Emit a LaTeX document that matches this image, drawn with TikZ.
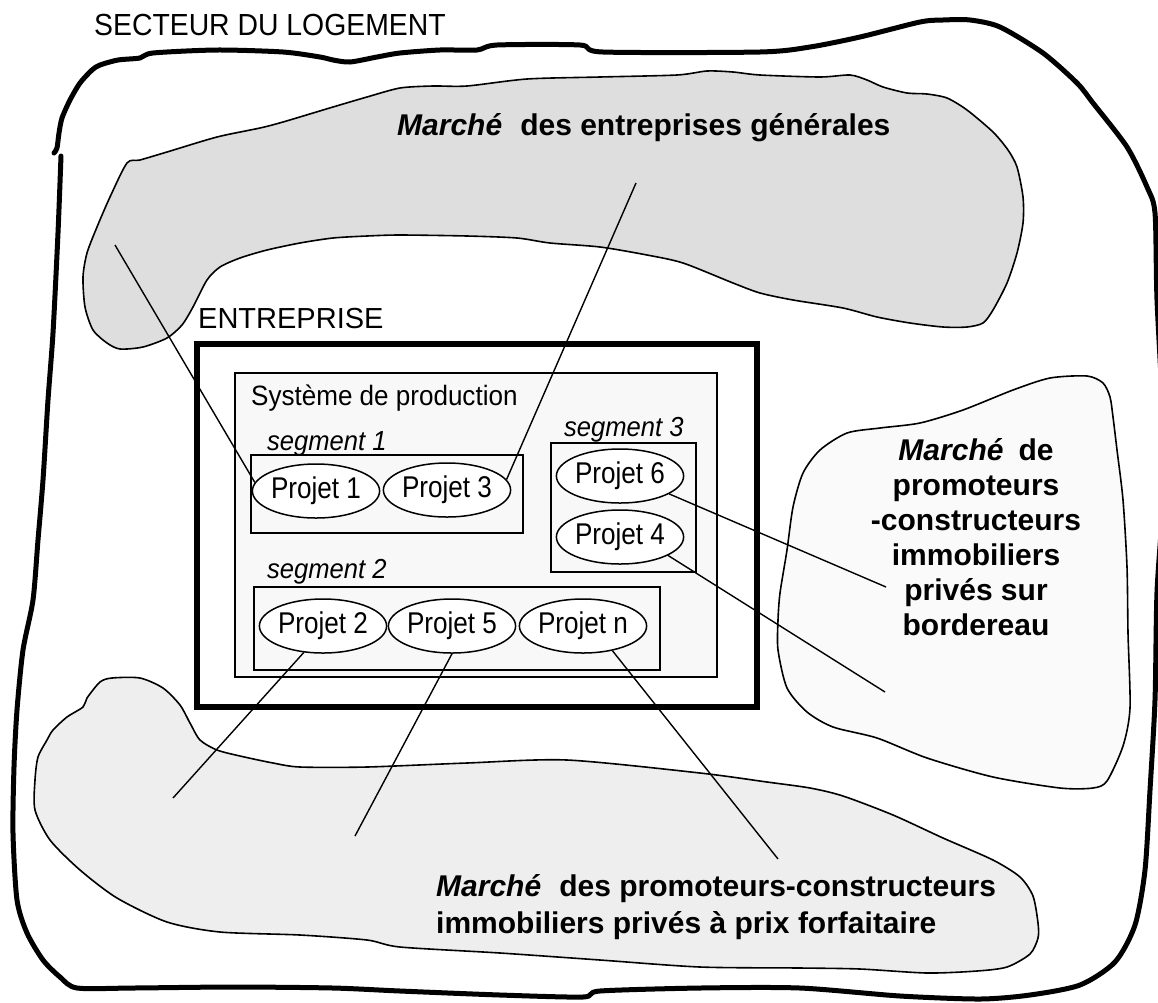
\documentclass[tikz,border=0pt]{standalone}
\usepackage{fontspec}
\setmainfont{Liberation Sans}
\newfontfamily\etroite[FakeStretch=0.87]{Liberation Sans}
\newfontfamily\mietroite[FakeStretch=0.93]{Liberation Sans}
\usetikzlibrary{shapes.geometric}

\definecolor{grisfonce}{HTML}{DEDEDE}
\definecolor{grisclair}{HTML}{EEEEEE}
\definecolor{grispale}{HTML}{FAFAFA}
\definecolor{grissys}{HTML}{F8F8F8}

\begin{document}
\begin{tikzpicture}[x=1pt,y=-1pt,
  marche/.style={draw, line width=1.6pt, line join=round},
  projet/.style={ellipse, draw, line width=1.5pt, fill=white, minimum width=123pt,
    minimum height=54pt, inner sep=0pt, font=\fontsize{30}{34}\etroite},
  lien/.style={line width=1.4pt},
  etiq/.style={anchor=base west, inner sep=0pt},
  seg/.style={etiq, font=\fontsize{27.5}{32}\mietroite\itshape},
  titre/.style={inner sep=0pt, font=\fontsize{30}{35}\selectfont\bfseries}]

  \useasboundingbox (0,0) rectangle (1158,1002);

%%%%%%%%%%%%%%%%%%%%%%%%%%%%%%%%%%%%%%%%%%
  % Secteur du logement
  \node[etiq, font=\fontsize{30.5}{36}\mietroite] (secteur) at (94,35) {SECTEUR DU LOGEMENT};
  \draw[line width=5pt, line cap=round, line join=round]
    plot[smooth, tension=0.45] coordinates {(61,156) (58,233) (53,333) (48,400) (43,480)
      (38,540) (33,600) (23,650) (17,710) (14,767) (13,833) (17,900) (27,933) (43,960)
      (60,977) (77,988) (133,988) (233,987) (333,988) (400,991) (500,995) (583,997)
      (600,991) (700,988) (800,988) (900,996) (980,999) (1030,995) (1080,985) (1115,962)
      (1135,925) (1145,870) (1150,790) (1155,700) (1157,592) (1163,500) (1163,420)
      (1157,300) (1155,213) (1147,187) (1127,147) (1093,103) (1077,83) (1043,53) (1000,27)
      (970,20) (943,20) (920,22) (860,37) (810,47) (760,52) (603,52) (580,45) (497,45)
      (477,50) (440,50) (400,53) (377,57) (350,62) (333,60) (320,57) (283,52) (217,50)
      (153,53) (140,58) (118,60) (100,65) (92,70) (80,83) (70,100) (62,118) (59,133)
      (57,148) (54,153)};

%%%%%%%%%%%%%%%%%%%%%%%%%%%%%%%%%%%%%%%%%%
  % Marches
  \draw[marche, fill=grisfonce]
    plot[smooth cycle, tension=0.45] coordinates {(127,163) (140,160) (167,152) (217,137)
      (260,128) (283,122) (333,107) (367,97) (400,88) (433,86) (467,86) (527,79) (600,77)
      (677,75) (707,71) (733,72) (760,75) (820,77) (850,75) (867,80) (883,87) (907,93)
      (927,94) (947,98) (967,110) (993,132) (1008,150) (1017,167) (1023,197) (1023,223)
      (1017,253) (1007,283) (993,310) (983,323) (967,327) (943,327) (910,323) (877,317)
      (843,308) (793,300) (760,293) (733,283) (683,263) (647,255) (600,247) (550,243)
      (517,238) (467,236) (400,235) (367,236) (333,238) (300,243) (267,250) (240,258)
      (220,267) (207,280) (193,307) (182,325) (167,338) (143,347) (120,349) (107,343)
      (93,330) (85,307) (83,277) (87,253) (97,227) (110,197)};
  \node[titre, anchor=base west] (mgen) at (397,135)
    {\textit{Marché}\hspace{0.6em}des entreprises générales};

  \draw[marche, fill=grispale]
    plot[smooth cycle, tension=0.45] coordinates {(1050,378) (1087,376) (1103,383)
      (1110,397) (1113,417) (1117,450) (1123,500) (1127,567) (1128,633) (1130,708)
      (1123,746) (1107,781) (1093,788) (1060,788) (993,777) (927,758) (877,738) (833,727)
      (807,712) (787,688) (778,650) (778,620) (780,593) (787,550) (793,507) (803,473)
      (820,450) (847,433) (880,428) (920,423) (963,410) (1013,390)};
  \node[titre, align=center, anchor=north] (mbord) at (976,438)
    {\textit{Marché}\hspace{0.5em}de\\promoteurs\\-constructeurs\\immobiliers\\privés sur\\bordereau};

  \draw[marche, fill=grisclair]
    plot[smooth cycle, tension=0.45] coordinates {(100,682) (112,678) (140,678) (163,688)
      (180,705) (190,723) (200,740) (217,750) (240,756) (273,763) (300,767) (367,767)
      (467,763) (567,760) (700,773) (767,782) (810,788) (843,796) (893,815) (943,838)
      (993,860) (1020,877) (1033,896) (1038,923) (1038,938) (1030,954) (1007,967)
      (977,971) (927,973) (860,969) (800,968) (700,967) (600,960) (500,953) (400,947)
      (367,940) (300,935) (220,932) (167,922) (117,898) (80,870) (50,840) (35,810)
      (35,780) (38,757) (47,740) (53,730) (67,717) (83,707) (87,698)};
  \node[titre, align=left, anchor=north west, font=\fontsize{30}{37}\selectfont\bfseries]
    (mforf) at (436,874)
    {\textit{Marché}\hspace{0.6em}des promoteurs-constructeurs\\immobiliers privés à prix forfaitaire};

%%%%%%%%%%%%%%%%%%%%%%%%%%%%%%%%%%%%%%%%%%
  % Entreprise
  \draw[line width=5.5pt, fill=white] (197,344) rectangle (757,707);
  \node[etiq, font=\fontsize{29}{35}\selectfont] (entr) at (198,328) {ENTREPRISE};

  % Systeme de production
  \draw[line width=1.2pt, fill=grissys] (235,373) rectangle (717,677);
  \node[etiq, font=\fontsize{28}{32}\mietroite] (sys) at (251,405) {Système de production};

  % Segments
  \draw[line width=1.4pt] (251,455) rectangle (523,533);
  \draw[line width=1.4pt] (551,443) rectangle (696,572);
  \draw[line width=1.4pt] (254,587) rectangle (660,670);
  \node[seg] (s1) at (267,450) {segment 1};
  \node[seg] (s3) at (564,436) {segment 3};
  \node[seg] (s2) at (267,578) {segment 2};

  % Projets
  \node[projet] (p1) at (316,491) {Projet 1};
  \node[projet] (p3) at (447,490) {Projet 3};
  \node[projet] (p6) at (620,476) {Projet 6};
  \node[projet] (p4) at (620,537) {Projet 4};
  \node[projet] (p2) at (323,626) {Projet 2};
  \node[projet] (p5) at (452,626) {Projet 5};
  \node[projet] (pn) at (583,626) {Projet n};

%%%%%%%%%%%%%%%%%%%%%%%%%%%%%%%%%%%%%%%%%%
  % Liens vers les marches
  \coordinate (c1) at (115,245);
  \coordinate (c3) at (636,183);
  \coordinate (c6) at (886,587);
  \coordinate (c4) at (885,692);
  \coordinate (c2) at (173,798);
  \coordinate (c5) at (355,836);
  \coordinate (cn) at (778,859);

  \draw[lien] (p1.172) -- (c1);
  \draw[lien] (p3.10) -- (c3);
  \draw[lien] (p6.-20) -- (c6);
  \draw[lien] (p4.-21) -- (c4);
  \draw[lien] (p2.234) -- (c2);
  \draw[lien] (p5.south) -- (c5);
  \draw[lien] (pn.-40) -- (cn);

\end{tikzpicture}
\end{document}
